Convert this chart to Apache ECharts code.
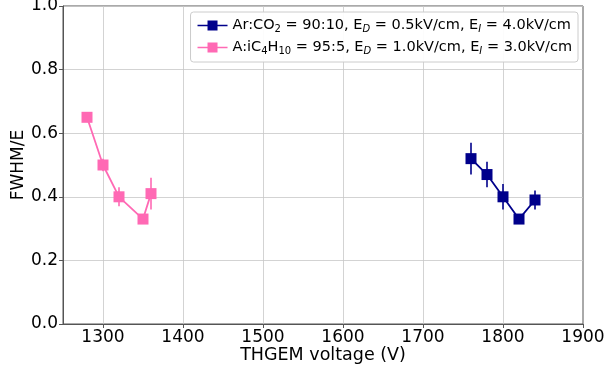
<!DOCTYPE html>
<html><head><meta charset="utf-8">
<script src="https://cdn.jsdelivr.net/npm/echarts@6/dist/echarts.min.js"></script>
<style>html,body{margin:0;padding:0;background:#fff}#c{width:608px;height:375px}</style>
</head><body><div id="c"></div>
<script>
// Data
const arVoltage = [1760, 1780, 1800, 1820, 1840];
const arFwhm    = [0.52, 0.47, 0.40, 0.33, 0.39];
const arErr     = [0.05, 0.04, 0.04, 0.01, 0.03];
const isoVoltage = [1280, 1300, 1320, 1350, 1360];
const isoFwhm    = [0.65, 0.50, 0.40, 0.33, 0.41];
const isoErr     = [0.01, 0.02, 0.03, 0.01, 0.05];
const xTicks = [1300, 1400, 1500, 1600, 1700, 1800, 1900];
const xGridLines = [1300, 1400, 1500, 1600, 1700, 1800];

const navy = '#00008b', pink = '#ff69b4';
const font = 'DejaVu Sans';

function pts(xs, ys) { return xs.map((x, i) => [x, ys[i]]); }
function errData(xs, ys, es) { return xs.map((x, i) => [x, ys[i] - es[i], ys[i] + es[i]]); }
function errSeries(xs, ys, es, color) {
  return {
    type: 'custom', silent: true, z: 3,
    data: errData(xs, ys, es),
    renderItem: (params, api) => {
      const a = api.coord([api.value(0), api.value(1)]);
      const b = api.coord([api.value(0), api.value(2)]);
      return { type: 'line', shape: { x1: a[0], y1: a[1], x2: b[0], y2: b[1] },
               style: { stroke: color, lineWidth: 1.6 } };
    }
  };
}
const legendIcon = 'path://M0,4.3 L30,4.3 L30,5.7 L0,5.7 Z M10,0 L20,0 L20,10 L10,10 Z';

const chart = echarts.init(document.getElementById('c'), null, { renderer: 'canvas' });
chart.setOption({
  animation: false,
  textStyle: { fontFamily: font },
  grid: { left: 63, right: 25, top: 6, bottom: 51, containLabel: false, outerBoundsMode: 'none',
          show: true, borderColor: '#555', borderWidth: 1, backgroundColor: 'transparent' },
  legend: {
    orient: 'vertical', right: 30, top: 12, z: 20,
    backgroundColor: 'rgba(255,255,255,0.95)', borderColor: '#ccc', borderWidth: 1, borderRadius: 3,
    padding: [6, 6, 6, 7], itemGap: 6, itemWidth: 30, itemHeight: 11,
    data: [{ name: 'ar', icon: legendIcon }, { name: 'iso', icon: legendIcon }],
    formatter: n => n === 'ar'
      ? 'Ar:CO{s|2} = 90:10, E{si|D} = 0.5kV/cm, E{si|I} = 4.0kV/cm'
      : 'A:iC{s|4}H{s|10} = 95:5, E{si|D} = 1.0kV/cm, E{si|I} = 3.0kV/cm',
    textStyle: { fontFamily: font, fontSize: 14.5, color: '#000',
      rich: {
        s: { fontFamily: font, fontSize: 10, padding: [7, 0, 0, 0], color: '#000' },
        si: { fontFamily: font, fontSize: 10, fontStyle: 'italic', padding: [7, 0, 0, 0], color: '#000' }
      } }
  },
  xAxis: {
    type: 'value', min: 1250, max: 1900,
    name: 'THGEM voltage (V)', nameLocation: 'middle', nameGap: 22, nameMoveOverlap: false,
    nameTextStyle: { fontFamily: font, fontSize: 17.5, color: '#000' },
    axisLine: { show: true, onZero: false, lineStyle: { color: '#555' } },
    axisTick: { show: true, length: 4, customValues: xTicks, lineStyle: { color: '#555' } },
    axisLabel: { customValues: xTicks, fontFamily: font, fontSize: 17, color: '#000', margin: 5,
                 formatter: v => String(v) },
    splitLine: { show: false }
  },
  yAxis: {
    type: 'value', min: 0, max: 1, interval: 0.2,
    name: 'FWHM/E', nameLocation: 'middle', nameGap: 36, nameMoveOverlap: false,
    nameTextStyle: { fontFamily: font, fontSize: 17, color: '#000' },
    axisLine: { show: true, lineStyle: { color: '#555' } },
    axisTick: { show: true, length: 4, lineStyle: { color: '#555' } },
    axisLabel: { fontFamily: font, fontSize: 17, color: '#000', margin: 5, formatter: v => v.toFixed(1) },
    splitLine: { show: true, lineStyle: { color: '#c8c8c8', width: 0.8 } }
  },
  series: [
    { type: 'line', name: 'grid', data: [], silent: true, z: 1,
      markLine: { silent: true, symbol: 'none', label: { show: false }, z: 1,
        lineStyle: { color: '#c8c8c8', width: 0.8, type: 'solid' },
        data: xGridLines.map(v => ({ xAxis: v })) } },
    { type: 'line', name: 'ar', data: pts(arVoltage, arFwhm), color: navy,
      symbol: 'rect', symbolSize: 11, lineStyle: { width: 1.8, color: navy }, itemStyle: { color: navy }, z: 4 },
    { type: 'line', name: 'iso', data: pts(isoVoltage, isoFwhm), color: pink,
      symbol: 'rect', symbolSize: 11, lineStyle: { width: 1.8, color: pink }, itemStyle: { color: pink }, z: 4 },
    errSeries(arVoltage, arFwhm, arErr, navy),
    errSeries(isoVoltage, isoFwhm, isoErr, pink)
  ]
});
</script></body></html>
